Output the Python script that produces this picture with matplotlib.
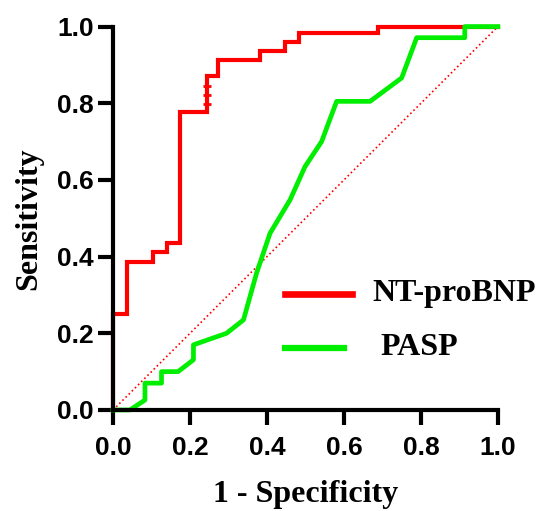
import numpy as np
import matplotlib.pyplot as plt

# ROC points (1 - specificity, sensitivity)
nt_fpr = [0, 0, 0.036, 0.036, 0.104, 0.104, 0.139, 0.139, 0.174, 0.174, 0.243, 0.243,
          0.273, 0.273, 0.382, 0.382, 0.448, 0.448, 0.482, 0.482, 0.688, 0.688, 1.0]
nt_tpr = [0, 0.25, 0.25, 0.387, 0.387, 0.413, 0.413, 0.435, 0.435, 0.776, 0.776, 0.870,
          0.870, 0.914, 0.914, 0.935, 0.935, 0.961, 0.961, 0.982, 0.982, 1.0, 1.0]
# tied points on the vertical step
nt_tie_fpr = [0.243, 0.243, 0.243]
nt_tie_tpr = [0.798, 0.821, 0.846]

pasp_fpr = [0, 0.044, 0.083, 0.083, 0.126, 0.126, 0.169, 0.209, 0.209, 0.295, 0.339,
            0.373, 0.408, 0.460, 0.499, 0.542, 0.581, 0.668, 0.750, 0.789, 0.914, 0.914, 1.0]
pasp_tpr = [0, 0, 0.026, 0.07, 0.07, 0.10, 0.10, 0.131, 0.170, 0.200, 0.235,
            0.357, 0.461, 0.548, 0.635, 0.700, 0.805, 0.805, 0.866, 0.971, 0.971, 1.0, 1.0]

labels = ['NT-proBNP', 'PASP']
colors = ['#ff0000', '#00ee00']
ticks = [0.0, 0.2, 0.4, 0.6, 0.8, 1.0]

fig = plt.figure(figsize=(5.4, 5.11), dpi=100)
ax = fig.add_axes([0.2093, 0.1977, 0.7127, 0.7503])

ax.plot([0, 1], [0, 1], color='red', linestyle=':', lw=1.2, clip_on=False)
ax.plot(nt_fpr, nt_tpr, color=colors[0], lw=3.0, clip_on=False, solid_joinstyle='miter')
ax.plot(nt_tie_fpr, nt_tie_tpr, color=colors[0], lw=0, marker='_', ms=6, mew=2.0)
ax.plot(pasp_fpr, pasp_tpr, color=colors[1], lw=3.4, clip_on=False)

# legend drawn in data coords
ax.plot([0.447, 0.621], [0.303, 0.303], color=colors[0], lw=4.8)
ax.text(0.673, 0.303, labels[0], fontsize=23, fontweight='bold', family='Liberation Serif',
        va='center', ha='left')
ax.plot([0.447, 0.600], [0.162, 0.162], color=colors[1], lw=4.5)
ax.text(0.694, 0.162, labels[1], fontsize=23, fontweight='bold', family='Liberation Serif',
        va='center', ha='left')

ax.set_xlim(0, 1)
ax.set_ylim(0, 1)
ax.set_xticks(ticks)
ax.set_yticks(ticks)
ax.set_xticklabels([f'{t:.1f}' for t in ticks])
ax.set_yticklabels([f'{t:.1f}' for t in ticks])
for lab in ax.get_xticklabels() + ax.get_yticklabels():
    lab.set_fontfamily('Liberation Sans')
    lab.set_fontweight('bold')
    lab.set_fontsize(19)

for s in ['top', 'right']:
    ax.spines[s].set_visible(False)
for s in ['left', 'bottom']:
    ax.spines[s].set_linewidth(3)
    ax.spines[s].set_capstyle('projecting')
ax.tick_params(axis='x', length=11, width=3, pad=8)
ax.tick_params(axis='y', length=11, width=3, pad=3)

ax.set_xlabel('1 - Specificity', fontsize=23, fontweight='bold', family='Liberation Serif', labelpad=14)
ax.set_ylabel('Sensitivity', fontsize=23, fontweight='bold', family='Liberation Serif', labelpad=10)

fig.savefig('out.png', dpi=100)
